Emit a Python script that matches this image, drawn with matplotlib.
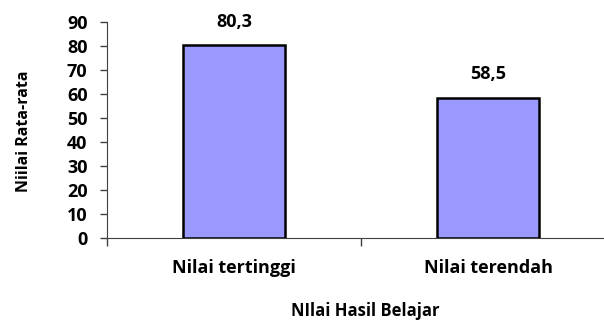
import numpy as np
import matplotlib
matplotlib.use('Agg')
import matplotlib.pyplot as plt
from matplotlib.ticker import FixedLocator, NullFormatter

categories = ['Nilai tertinggi', 'Nilai terendah']
values = [80.3, 58.5]
value_labels = ['80,3', '58,5']
y_ticks = [0, 10, 20, 30, 40, 50, 60, 70, 80, 90]

plt.rcParams['font.family'] = ['Open Sans', 'DejaVu Sans']
plt.rcParams['font.weight'] = 'bold'

fig = plt.figure(figsize=(6.04, 3.22), dpi=100)
ax = fig.add_axes([107/604, 84/322, (604-107)/604, 216/322])

x = np.arange(len(categories))
ax.bar(x, values, width=0.4, color='#9999ff', edgecolor='black', linewidth=1.8, zorder=3)

for xi, v, lab in zip(x, values, value_labels):
    ax.annotate(lab, (xi, v), xytext=(0, 17), textcoords='offset points',
                ha='center', va='center', fontsize=13, fontweight='bold')

ax.set_xlim(-0.5, -0.5 + (604-107)/254)
ax.set_ylim(0, 90)
ax.set_yticks(y_ticks)
ax.tick_params(axis='y', direction='out', length=5, width=1, color='#404040',
               labelsize=13, pad=9)

# category boundaries carry the tick marks, labels sit at the centres
ax.xaxis.set_major_locator(FixedLocator([-0.5, 0.5, 1.5]))
ax.xaxis.set_major_formatter(NullFormatter())
ax.xaxis.set_minor_locator(FixedLocator(list(x)))
ax.set_xticklabels(categories, minor=True)
ax.tick_params(axis='x', which='major', direction='out', length=6, width=1, color='#404040')
ax.tick_params(axis='x', which='minor', length=0, labelsize=13, pad=15)

for s in ['top', 'right']:
    ax.spines[s].set_visible(False)
ax.spines['left'].set_color('#404040')
ax.spines['bottom'].set_color('#404040')

fig.text(24/604, 1 - 131/322, 'Niilai Rata-rata', rotation=90, ha='center', va='center',
         fontsize=11.5, fontweight='bold')
fig.text(365/604, 1 - 311/322, 'NIlai Hasil Belajar', ha='center', va='center',
         fontsize=12, fontweight='bold')

plt.savefig('out.png', dpi=100)
